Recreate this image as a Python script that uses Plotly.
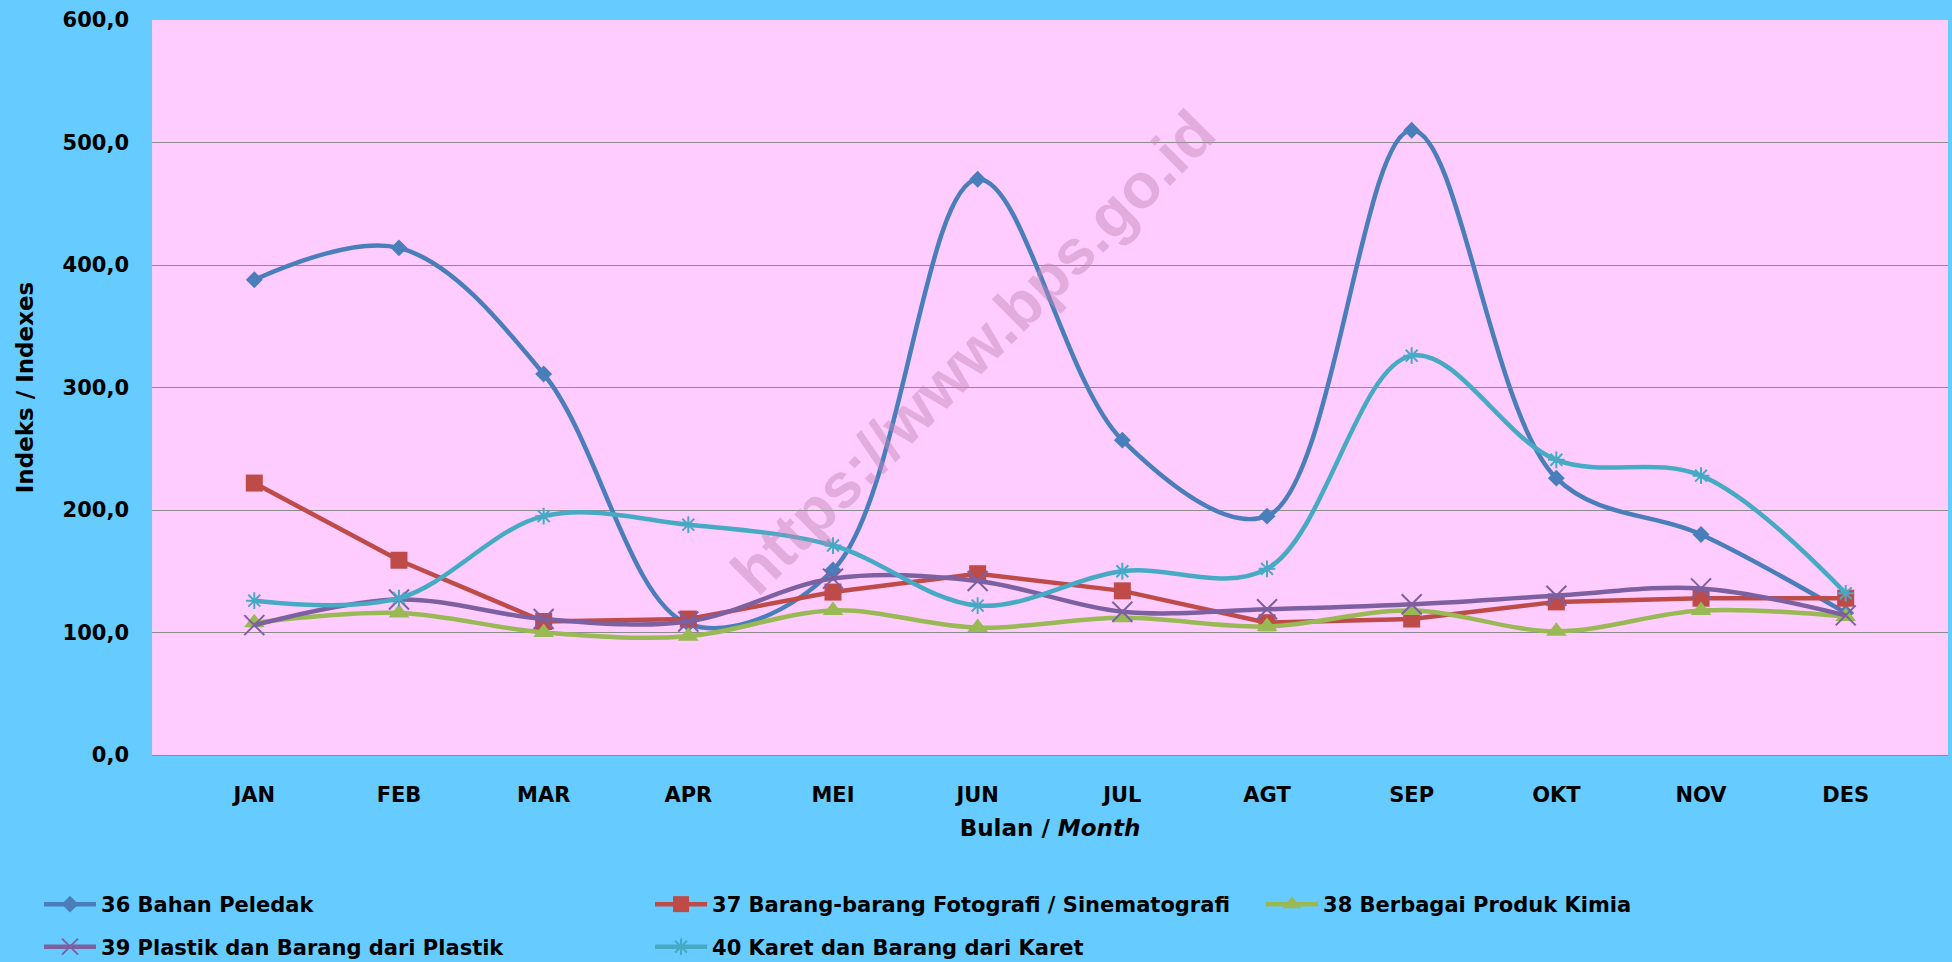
import plotly.graph_objects as go

months = ["JAN", "FEB", "MAR", "APR", "MEI", "JUN", "JUL", "AGT", "SEP", "OKT", "NOV", "DES"]

s36_name = "36 Bahan Peledak"
s36 = [388, 414, 311, 107, 151, 470, 257, 195, 510, 226, 180, 116]

s37_name = "37 Barang-barang Fotografi / Sinematografi"
s37 = [222, 159, 109, 111, 133, 148, 134, 108, 111, 125, 128, 128]

s38_name = "38 Berbagai Produk Kimia"
s38 = [108, 116, 100, 97, 118, 104, 112, 105, 118, 101, 118, 113]

s39_name = "39 Plastik dan Barang dari Plastik"
s39 = [106, 127, 111, 109, 144, 142, 117, 119, 123, 130, 136, 114]

s40_name = "40 Karet dan Barang dari Karet"
s40 = [126, 128, 195, 188, 171, 122, 150, 152, 326, 241, 228, 132]

y_ticks = [0, 100, 200, 300, 400, 500, 600]

FONT = "DejaVu Sans"

fig = go.Figure()

def add(name, vals, color, mcolor, symbol, size, shape, legend, mline=0):
    fig.add_trace(go.Scatter(
        x=months, y=vals, name=name, mode="lines+markers",
        line=dict(color=color, width=4.5, shape=shape, smoothing=1),
        marker=dict(symbol=symbol, size=size, color=mcolor,
                    line=dict(width=mline, color=mcolor)),
        legend=legend,
    ))

add(s36_name, s36, "#4A7EBB", "#4A7EBB", "diamond", 13, "spline", "legend")
add(s37_name, s37, "#BE4B48", "#BE4B48", "square", 17, "linear", "legend")
add(s38_name, s38, "#98B954", "#98B954", "triangle-up", 18, "spline", "legend")
add(s39_name, s39, "#7D60A0", "#7D60A0", "x-thin", 20, "spline", "legend2", mline=2)
add(s40_name, s40, "#46AAC5", "#46AAC5", "asterisk-open", 14, "spline", "legend2", mline=2)

legend_common = dict(
    orientation="h",
    font=dict(family=FONT, size=21, color="black", weight="bold"),
    bgcolor="rgba(0,0,0,0)",
    itemwidth=52,
    entrywidth=544,
    entrywidthmode="pixels",
    xanchor="left",
    yanchor="middle",
    traceorder="normal",
)

fig.update_layout(
    width=1952, height=962,
    paper_bgcolor="#66CCFF",
    plot_bgcolor="#FFCCFF",
    separators=",.",
    margin=dict(l=152, r=4, t=20, b=207, autoexpand=False),
    font=dict(family=FONT, color="black"),
    showlegend=True,
    legend=dict(legend_common, x=-0.0629, y=-0.2034),
    legend2=dict(legend_common, x=-0.0629, y=-0.2612),
    xaxis=dict(
        type="category",
        showgrid=False,
        showline=False,
        ticks="",
        tickfont=dict(family=FONT, size=21, color="black", weight="bold"),
        ticklabelstandoff=25,
        title=dict(text="Bulan / <i>Month</i>", standoff=13,
                   font=dict(family=FONT, size=23, color="black", weight="bold")),
    ),
    yaxis=dict(
        range=[0, 600],
        tickvals=y_ticks,
        tickformat=".1f",
        showgrid=True,
        gridcolor="#8C8C8C",
        gridwidth=1.3,
        zeroline=True,
        zerolinecolor="#8C8C8C",
        zerolinewidth=1.3,
        showline=False,
        ticks="",
        tickfont=dict(family=FONT, size=21, color="black", weight="bold"),
        ticklabelstandoff=22,
        title=dict(text="Indeks / Indexes", standoff=22,
                   font=dict(family=FONT, size=23, color="black", weight="bold")),
    ),
    annotations=[dict(
        text="https://www.bps.go.id", xref="paper", yref="paper",
        x=0.457, y=0.548, showarrow=False, textangle=-45,
        font=dict(family="Liberation Sans", size=63, color="rgba(190,135,180,0.45)", weight="bold"),
    )],
)

fig.write_html("out.html", config={"displayModeBar": False},
               post_script="document.body.style.margin='0';document.body.style.overflow='hidden';")
